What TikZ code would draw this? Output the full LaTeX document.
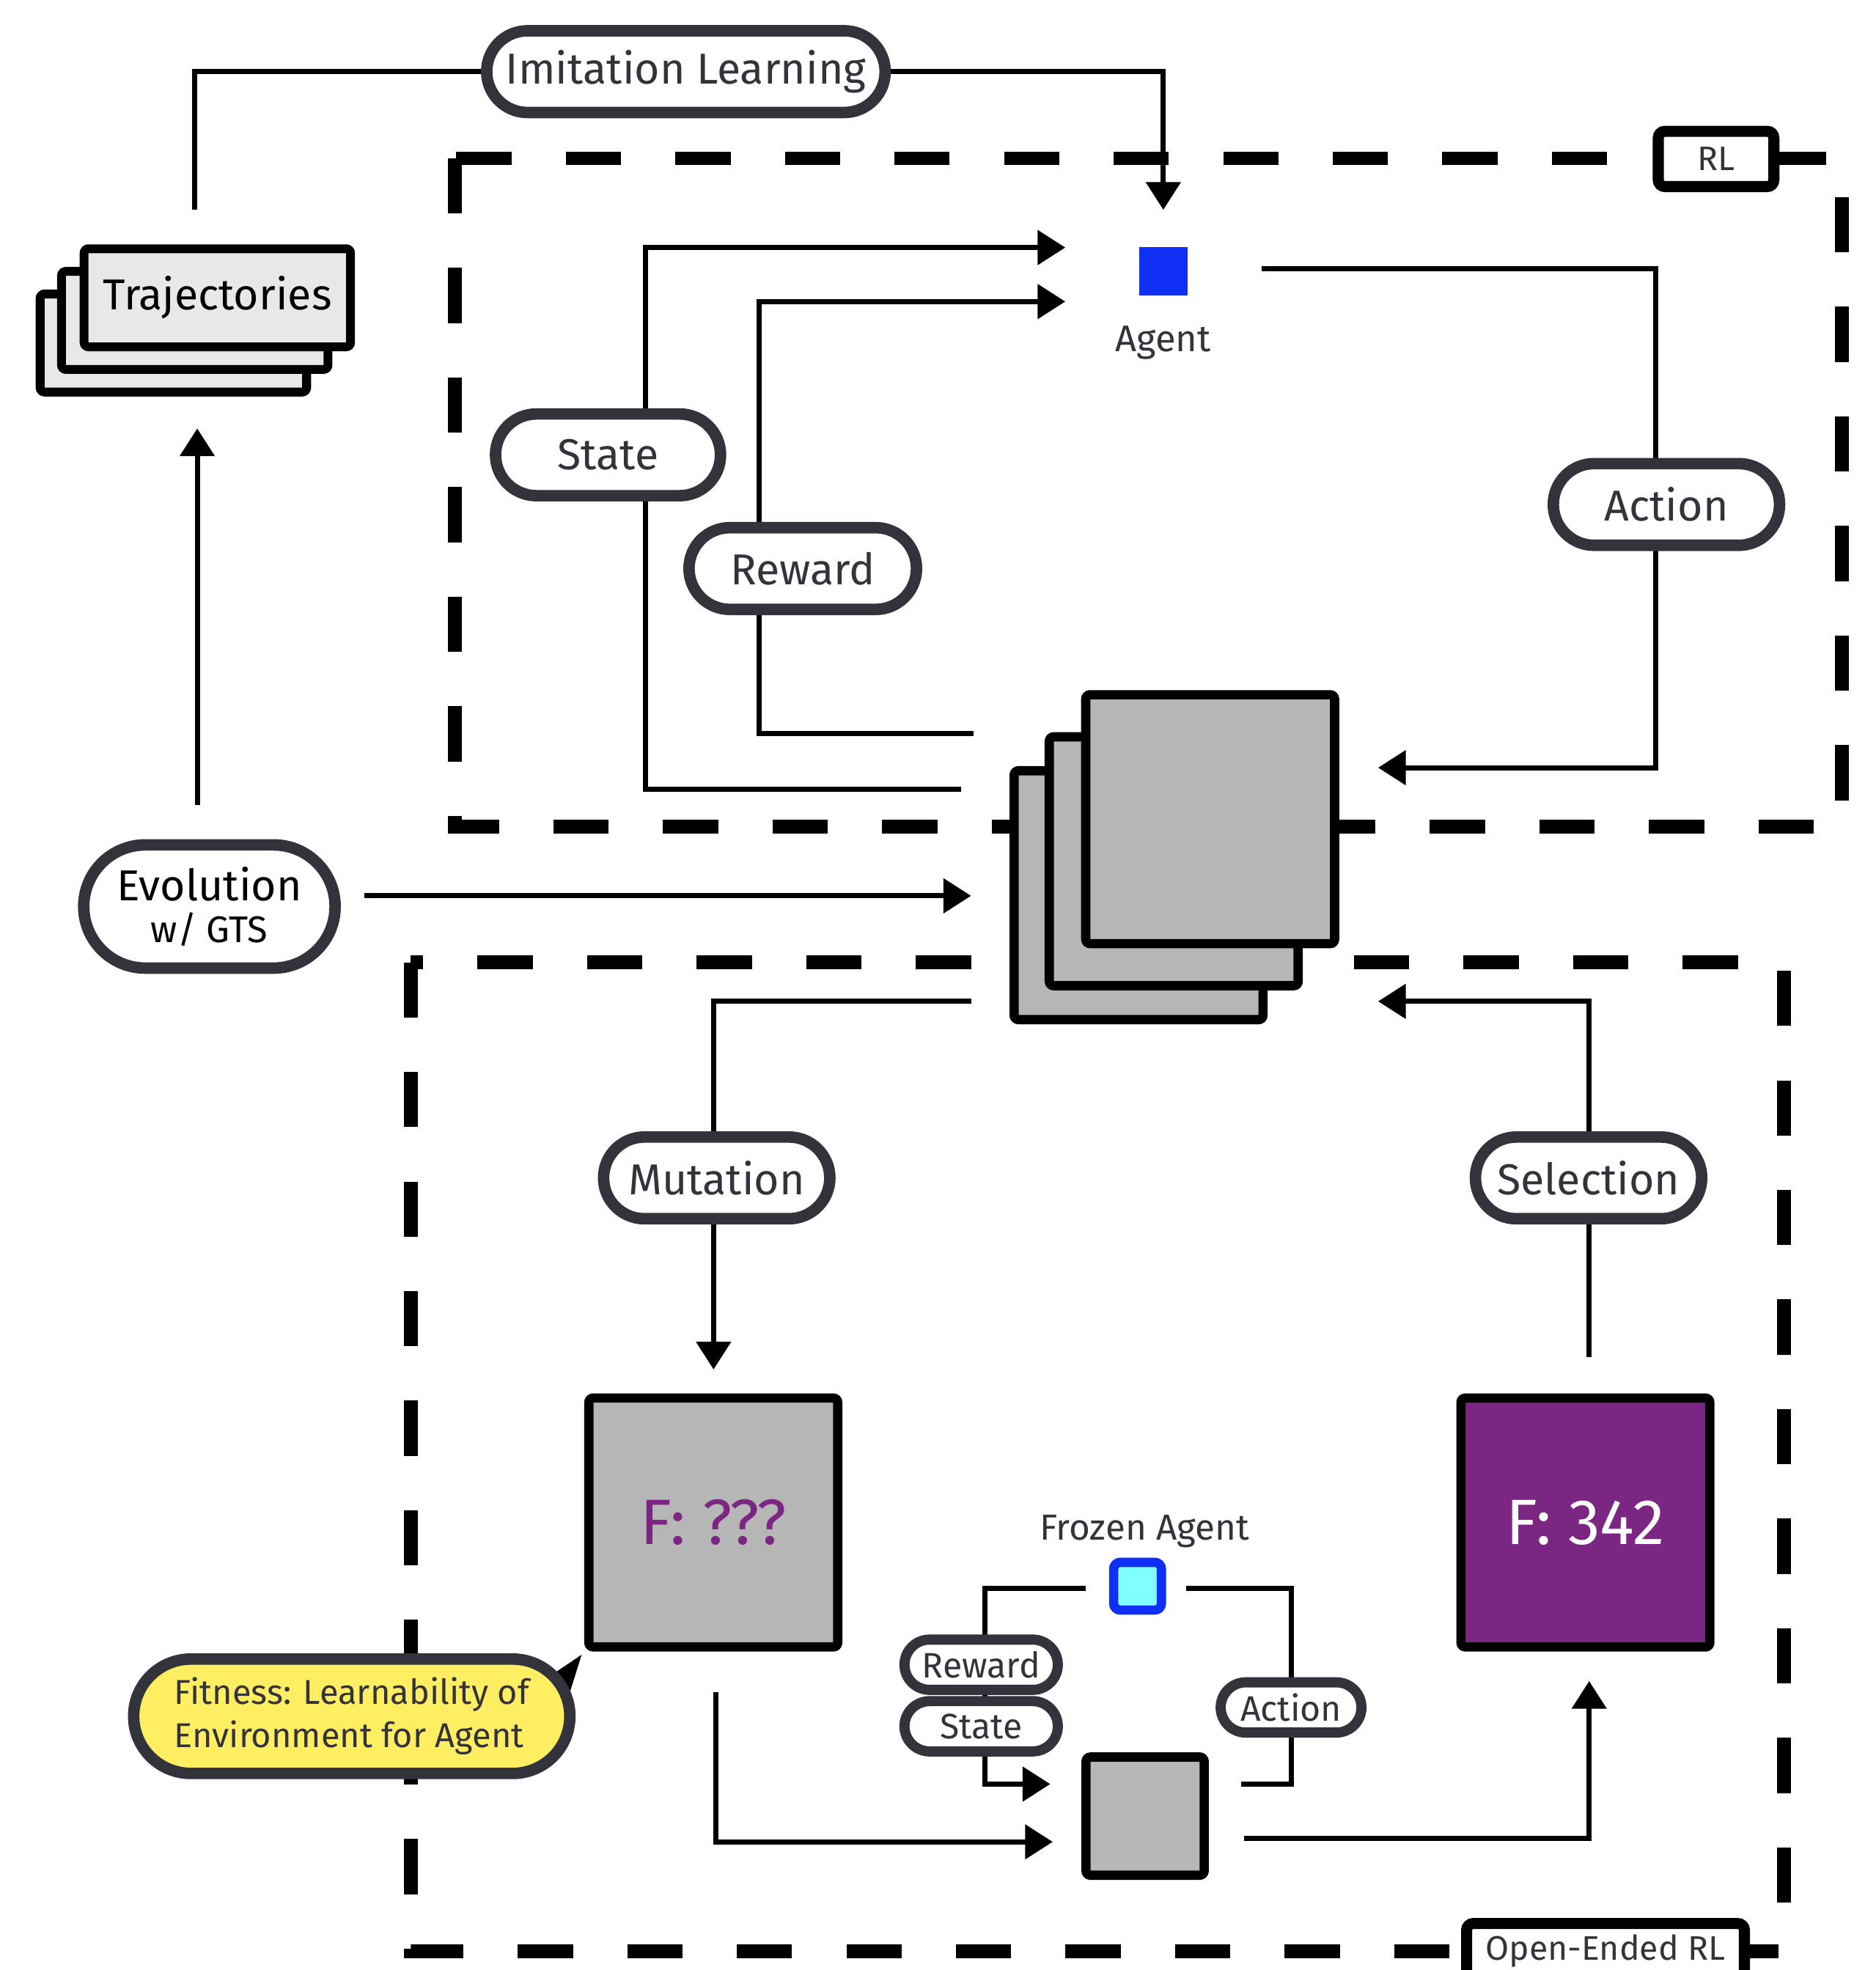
\documentclass[tikz,border=0pt]{standalone}
\usepackage{fontspec}
\setmainfont{Fira Sans}
\usepackage{tikz}
\usetikzlibrary{arrows.meta,shapes.misc,backgrounds}
\usepackage{xcolor}

\definecolor{inkgray}{RGB}{51,51,60}
\definecolor{envgray}{RGB}{182,182,182}
\definecolor{trajgray}{RGB}{232,232,232}
\definecolor{agentblue}{RGB}{15,47,245}
\definecolor{frozencyan}{RGB}{128,255,255}
\definecolor{fitpurple}{RGB}{123,38,130}
\definecolor{noteyellow}{RGB}{255,238,98}

\tikzset{
  link/.style={line width=1.15pt},
  region/.style={line width=3.1pt,dash pattern=on 12.5pt off 12.3pt},
  pill/.style={rounded rectangle,draw=inkgray,fill=white,line width=2.6pt,text=inkgray,
    inner sep=0pt,minimum height=0.65cm,font=\fontsize{9.8}{11.5}\selectfont},
  minipill/.style={pill,line width=2.3pt,minimum height=0.40cm,font=\fontsize{8}{9.5}\selectfont},
  tagbox/.style={draw=black,fill=white,line width=2.5pt,rounded corners=1.5pt,text=inkgray,
    inner sep=0pt,minimum height=0.44cm,font=\fontsize{7.7}{9}\selectfont},
  envbox/.style={draw=black,fill=envgray,line width=2.1pt,rounded corners=1pt,
    inner sep=0pt,minimum size=1.98cm},
  trajbox/.style={draw=black,fill=trajgray,line width=2pt,rounded corners=1pt,inner sep=0pt,
    minimum width=2.12cm,minimum height=0.78cm,font=\fontsize{9.8}{12}\selectfont},
  smalllabel/.style={text=inkgray,inner sep=0pt,font=\fontsize{8.2}{10}\selectfont}
}

\begin{document}
\begin{tikzpicture}[x=0.01cm,y=-0.01cm,>={Triangle[length=2.2mm,width=2.7mm]}]
\useasboundingbox (0,0) rectangle (1493,1568);

% stacks and boxes
\node[trajbox] (trajC) at (138,273) {};
\node[trajbox] (trajB) at (155,255) {};
\node[trajbox] (trajA) at (173,237) {Trajectories};
\node[envbox] (envC) at (906.3,712.5) {};
\node[envbox] (envB) at (934.3,685.5) {};
\node[envbox] (envA) at (963.3,652) {};
\node[envbox,text=fitpurple,font=\fontsize{14.5}{16}\selectfont] (fq) at (567.8,1211.8) {F: ???};
\node[envbox,fill=fitpurple,text=white,font=\fontsize{14.5}{16}\selectfont] (fs) at (1262,1211.8) {F: 342};
\node[envbox,minimum size=0.94cm] (evalenv) at (911.5,1445.5) {};

% agents
\node[fill=agentblue,inner sep=0pt,minimum size=0.385cm] (agent) at (926,216) {};
\node[smalllabel,font=\fontsize{8.4}{10}\selectfont] (agentlbl) at (926,273) {Agent};
\node[draw=agentblue,fill=frozencyan,line width=2.1pt,rounded corners=1.5pt,inner sep=0pt,minimum size=0.38cm] (frz) at (905.5,1262.5) {};
\node[smalllabel] (frzlbl) at (911,1219) {Frozen Agent};

% pills
\node[pill,minimum width=3.17cm] (imit) at (546,57) {Imitation Learning};
\node[pill,minimum width=1.79cm] (state) at (484,362) {State};
\node[pill,minimum width=1.81cm] (reward) at (639,452.5) {Reward};
\node[pill,minimum width=1.80cm] (action) at (1326.5,401.5) {Action};
\node[pill,minimum width=2.0cm,minimum height=0.98cm,text=black,align=center] (evo) at (166.7,721.5)
  {Evolution\\[-2pt]{\fontsize{8.4}{10}\selectfont w/ GTS}};
\node[pill,minimum width=1.80cm] (mutation) at (570.5,937.5) {Mutation};
\node[pill,minimum width=1.80cm] (selection) at (1264.5,937.5) {Selection};
\node[pill,fill=noteyellow,minimum width=3.47cm,minimum height=0.91cm,align=left,
  font=\fontsize{7.8}{9.7}\selectfont] (fitness) at (280,1366) {Fitness: Learnability of\\Environment for Agent};
\node[minipill,minimum width=1.22cm] (mreward) at (781,1325) {Reward};
\node[minipill,minimum width=1.22cm] (mstate) at (781,1374) {State};
\node[minipill,minimum width=1.12cm] (maction) at (1027.7,1359) {Action};

\node[tagbox,minimum width=0.92cm] (rltag) at (1366,126.5) {RL};
\node[tagbox,minimum width=2.21cm] (oetag) at (1278,1553) {Open-Ended RL};

% connector ends
\coordinate (trajOut) at (155,167);
\coordinate (trajIn) at (157,341);
\coordinate (evoUp) at (157,641);
\coordinate (evoOut) at (290,713);
\coordinate (agIL) at (926,167);
\coordinate (agS) at (848,197);
\coordinate (agR) at (848,240);
\coordinate (agA) at (1004,214);
\coordinate (envS) at (765,628);
\coordinate (envR) at (775,584);
\coordinate (envAct) at (1097,611);
\coordinate (envEvo) at (773,713);
\coordinate (envMut) at (773,797);
\coordinate (envSel) at (1097,797);
\coordinate (fqIn) at (568,1090);
\coordinate (fqOut) at (570,1347);
\coordinate (fsIn) at (1265,1338);
\coordinate (fsOut) at (1265,1080);
\coordinate (evIn) at (838,1466);
\coordinate (evSR) at (836,1420);
\coordinate (evAct) at (988,1420);
\coordinate (evOut) at (990,1463);
\coordinate (frzL) at (864,1264);
\coordinate (frzR) at (944,1264);

\begin{scope}[on background layer]
\draw[region] (362,126) rectangle (1466,658);
\draw[region] (327,766) rectangle (1420,1553);
\fill (432,1338) -- (463,1317) -- (452,1352) -- cycle;
\draw[link,->] (trajOut) |- (imit) -| (agIL);
\draw[link,->] (evoUp) -- (trajIn);
\draw[link,->] (evoOut) -- (envEvo);
\draw[link,->] (envS) -| (514,197) -- (agS);
\draw[link,->] (envR) -| (604,240) -- (agR);
\draw[link,->] (agA) -| (1318,611) -- (envAct);
\draw[link,->] (envMut) -| (fqIn);
\draw[link,->] (fsOut) |- (envSel);
\draw[link,->] (fqOut) |- (evIn);
\draw[link,->] (frzL) -| (784,1420) -- (evSR);
\draw[link] (frzR) -| (1028,1420) -- (evAct);
\draw[link,->] (evOut) -| (fsIn);
\end{scope}
\end{tikzpicture}
\end{document}
